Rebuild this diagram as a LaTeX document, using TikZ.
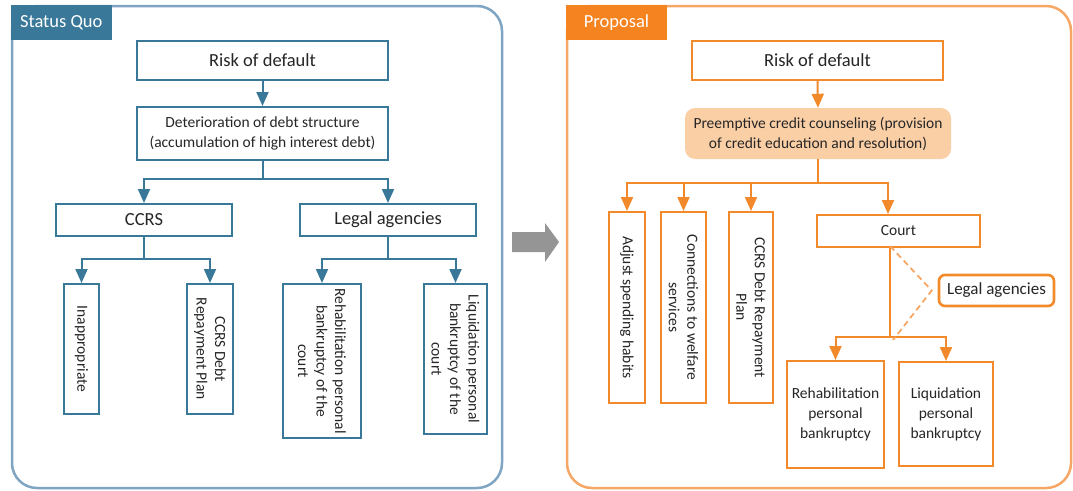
\documentclass[tikz,border=0pt]{standalone}
\usepackage{fontspec}
\setmainfont{Carlito}
\usetikzlibrary{arrows.meta,calc}
\definecolor{bdark}{HTML}{3A7899}
\definecolor{blight}{HTML}{7FA5C3}
\definecolor{odark}{HTML}{F28A2B}
\definecolor{otab}{HTML}{F58420}
\definecolor{olight}{HTML}{F7A765}
\definecolor{peach}{HTML}{FBCFA5}
\definecolor{garrow}{HTML}{959595}
\definecolor{txt}{HTML}{262626}
\begin{document}
\begin{tikzpicture}[x=1pt,y=-1pt,
  bigtxt/.style={font=\fontsize{18.5}{22}\selectfont},
  smtxt/.style={font=\fontsize{15.5}{20}\selectfont},
  boxL/.style={draw=bdark, line width=2pt, fill=white, inner sep=0pt, text=txt, align=center},
  boxR/.style={draw=odark, line width=2pt, fill=white, inner sep=0pt, text=txt, align=center},
  vtxt/.style={rotate=-90, align=center, text=txt, inner sep=0pt, font=\fontsize{15.5}{18.5}\selectfont},
  arrL/.style={draw=bdark, line width=2pt, -{Triangle[width=12pt,length=14pt]}},
  arrR/.style={draw=odark, line width=2pt, -{Triangle[width=12pt,length=14pt]}},
  lineR/.style={draw=odark, line width=2pt},
  tab/.style={inner sep=0pt, text=white, font=\fontsize{18.5}{22}\selectfont}
]
\useasboundingbox (0,0) rectangle (1073,490);

% ---------- panels ----------
\draw[blight, line width=2.5pt, rounded corners=25pt] (12,6) -- (502,6) -- (502,488) -- (12,488) -- cycle;
\node[tab, fill=bdark, minimum width=100.5pt, minimum height=35pt] (tabL) at (61.25,22.5) {Status Quo};

\draw[olight, line width=2.5pt, rounded corners=25pt] (567,6) -- (1071,6) -- (1071,488) -- (567,488) -- cycle;
\node[tab, fill=otab, minimum width=101.5pt, minimum height=35pt] (tabR) at (616.5,22.5) {Proposal};

% gray block arrow
\fill[garrow] (512,232) -- (545,232) -- (545,223) -- (559,242) -- (545,262) -- (545,252) -- (512,252) -- cycle;

% ---------- left: status quo ----------
\node[boxL, bigtxt, minimum width=251pt, minimum height=39pt] (riskL) at (262.5,60.5) {Risk of default};
\node[boxL, smtxt, minimum width=251pt, minimum height=53pt] (detL) at (262.5,133.5)
  {Deterioration of debt structure\\(accumulation of high interest debt)};
\node[boxL, bigtxt, minimum width=176pt, minimum height=32pt] (ccrs) at (144,220) {CCRS};
\node[boxL, bigtxt, minimum width=176pt, minimum height=32pt] (legalL) at (388,220) {Legal agencies};

\node[boxL, minimum width=35pt, minimum height=130pt] (inap) at (81.5,349) {};
\node[vtxt] (inapT) at (inap.center) {Inappropriate};
\node[boxL, minimum width=46pt, minimum height=130pt] (cdpL) at (210,349) {};
\node[vtxt] (cdpLT) at (cdpL.center) {CCRS Debt\\Repayment Plan};
\node[boxL, minimum width=78pt, minimum height=154pt] (rehabL) at (322,361) {};
\node[vtxt] (rehabLT) at (rehabL.center) {Rehabilitation personal\\bankruptcy of the\\court};
\node[boxL, minimum width=63pt, minimum height=150pt] (liqL) at (455.5,359) {};
\node[vtxt] (liqLT) at (liqL.center) {Liquidation personal\\bankruptcy of the\\court};

\draw[arrL] (riskL.south) -- (detL.north);
\draw[arrL] (detL.south) -- ++(0,18) -| (ccrs.north);
\draw[arrL] (detL.south) ++(0,18) -| (legalL.north);
\draw[arrL] (ccrs.south) -- ++(0,22) -| (inap.north);
\draw[arrL] (ccrs.south) ++(0,22) -| (cdpL.north);
\draw[arrL] (legalL.south) -- ++(0,22) -| (rehabL.north);
\draw[arrL] (legalL.south) ++(0,22) -| (liqL.north);

% ---------- right: proposal ----------
\node[boxR, bigtxt, minimum width=251pt, minimum height=39pt] (riskR) at (817.5,60.5) {Risk of default};
\node[fill=peach, rounded corners=10pt, inner sep=0pt, text=txt, align=center,
  minimum width=266pt, minimum height=51pt, font=\fontsize{15.5}{20}\selectfont] (pre) at (818,133.5)
  {Preemptive credit counseling (provision\\of credit education and resolution)};

\node[boxR, minimum width=36pt, minimum height=191pt] (adj) at (627,307.5) {};
\node[vtxt] (adjT) at (adj.center) {Adjust spending habits};
\node[boxR, minimum width=45pt, minimum height=191pt] (conn) at (683.5,307.5) {};
\node[vtxt] (connT) at (conn.center) {Connections to welfare\\services};
\node[boxR, minimum width=44pt, minimum height=191pt] (cdpR) at (751,307.5) {};
\node[vtxt] (cdpRT) at (cdpR.center) {CCRS Debt Repayment\\Plan};
\node[boxR, smtxt, minimum width=163pt, minimum height=32pt] (court) at (898.5,231) {Court};
\node[boxR, smtxt, minimum width=97pt, minimum height=107pt] (rehabR) at (835.5,414.5)
  {Rehabilitation\\personal\\bankruptcy};
\node[boxR, smtxt, minimum width=94pt, minimum height=104pt] (liqR) at (946,414)
  {Liquidation\\personal\\bankruptcy};
\node[boxR, line width=2.6pt, rounded corners=6pt, minimum width=115pt, minimum height=31pt,
  font=\fontsize{17}{20}\selectfont] (legalR) at (996.5,290.5) {Legal agencies};

\draw[arrR] (riskR.south) -- (pre.north);
\draw[arrR] (pre.south) -- ++(0,24) -| (adj.north);
\draw[arrR] (pre.south) ++(0,24) -| (conn.north);
\draw[arrR] (pre.south) ++(0,24) -| (cdpR.north);
\draw[arrR] (pre.south) ++(0,24) -| ([xshift=-10.5pt]court.north);
\coordinate (cout) at ([xshift=-8.5pt]court.south);
\coordinate (fork) at ($(cout)+(0,89)$);
\draw[lineR] (cout) -- (fork);
\draw[arrR] (fork) -| (rehabR.north);
\draw[arrR] (fork) -| (liqR.north);
\coordinate (apex) at ([xshift=-6pt]legalR.west);
\draw[olight, line width=1.8pt, dash pattern=on 6pt off 4pt] ([yshift=2pt]cout) -- (apex) -- ([xshift=3pt,yshift=-3pt]fork);
\end{tikzpicture}
\end{document}
